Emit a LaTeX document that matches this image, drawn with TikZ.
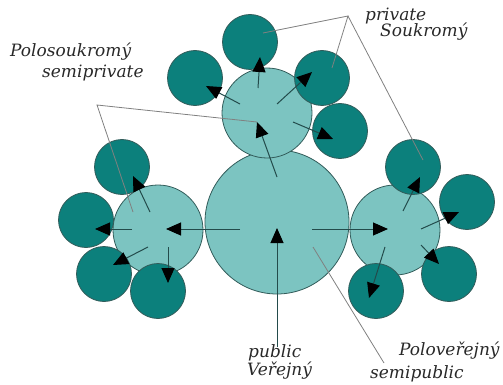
\documentclass[tikz,border=0pt]{standalone}
\usepackage{fontspec}
\newfontfamily\lblfam{DejaVu Serif}
\usetikzlibrary{arrows.meta}

\definecolor{darkteal}{RGB}{12,128,124}
\definecolor{lightteal}{RGB}{124,196,193}
\definecolor{rimcol}{RGB}{50,92,90}
\definecolor{arrowcol}{RGB}{35,75,75}
\definecolor{textcol}{RGB}{40,40,40}
\newcommand{\lblfont}{\lblfam\itshape\fontsize{17}{17}\selectfont}

\begin{document}
\begin{tikzpicture}[x=1pt,y=-1pt,>={Triangle[length=15pt,width=13pt,color=black]},
  big node/.style={circle,draw=rimcol,fill=lightteal,inner sep=0pt,minimum size=144pt,line width=0.8pt},
  mid node/.style={circle,draw=rimcol,fill=lightteal,inner sep=0pt,minimum size=90pt,line width=0.8pt},
  small node/.style={circle,draw=rimcol,fill=darkteal,inner sep=0pt,minimum size=55pt,line width=0.8pt},
  pointer/.style={->,draw=arrowcol,line width=1pt},
  leader/.style={draw=gray,line width=0.8pt},
  word/.style={inner sep=0pt,anchor=base west,text=textcol,font=\lblfont}]

 \useasboundingbox (0,0) rectangle (503,385);

 % circles
 \node[big node] (pub) at (277,222) {};
 \node[mid node] (top) at (267,113) {};
 \node[mid node] (left) at (158,230) {};
 \node[mid node] (right) at (395,230) {};

 \node[small node] (top1) at (250,42) {};
 \node[small node] (top2) at (195,78) {};
 \node[small node] (top3) at (322,78) {};
 \node[small node] (top4) at (340,131) {};
 \node[small node] (left1) at (122,167) {};
 \node[small node] (left2) at (86,220) {};
 \node[small node] (left3) at (104,274) {};
 \node[small node] (left4) at (158,291) {};
 \node[small node] (right1) at (413,167) {};
 \node[small node] (right2) at (467,202) {};
 \node[small node] (right3) at (449,274) {};
 \node[small node] (right4) at (376,291) {};

 % labels
 \node[word] (polosouk) at (10,57) {Polosoukromý};
 \node[word] (semipriv) at (42,78) {semiprivate};
 \node[word] (priv) at (365,21) {private};
 \node[word] (souk) at (380,37) {Soukromý};
 \node[word] (publ) at (248,357) {public};
 \node[word] (verej) at (247,375) {Veřejný};
 \node[word] (polover) at (399,355) {Poloveřejný};
 \node[word] (semipubl) at (370,378) {semipublic};

 % arrow ends
 \coordinate (t1s) at (258,88);  \coordinate (t1e) at (260,57);
 \coordinate (t2s) at (240,104); \coordinate (t2e) at (206,86);
 \coordinate (t3s) at (277,104); \coordinate (t3e) at (312,72);
 \coordinate (t4s) at (293,122); \coordinate (t4e) at (333,139);
 \coordinate (t0s) at (277,177); \coordinate (t0e) at (257,122);
 \coordinate (l0s) at (240,229); \coordinate (l0e) at (166,229);
 \coordinate (l1s) at (150,212); \coordinate (l1e) at (133,176);
 \coordinate (l2s) at (132,229); \coordinate (l2e) at (95,229);
 \coordinate (l3s) at (148,247); \coordinate (l3e) at (113,265);
 \coordinate (l4s) at (168,247); \coordinate (l4e) at (168,283);
 \coordinate (r0s) at (312,229); \coordinate (r0e) at (388,229);
 \coordinate (r1s) at (403,211); \coordinate (r1e) at (420,177);
 \coordinate (r2s) at (421,229); \coordinate (r2e) at (459,212);
 \coordinate (r3s) at (421,245); \coordinate (r3e) at (439,264);
 \coordinate (r4s) at (385,247); \coordinate (r4e) at (369,298);
 \coordinate (p0s) at (277,347); \coordinate (p0e) at (277,228);

 % leader lines
 \coordinate (semiv) at (97,105);
 \coordinate (semil) at (133,212);
 \coordinate (privv) at (348,16);
 \coordinate (pt1) at (263,33);
 \coordinate (pt2) at (332,68);
 \coordinate (pt3) at (423,160);
 \coordinate (spv) at (313,247);
 \coordinate (spe) at (384,363);
 \draw[leader] (t0e) -- (semiv) -- (semil);
 \draw[leader] (pt1) -- (privv) -- (pt2);
 \draw[leader] (privv) -- (pt3);
 \draw[leader] (spv) -- (spe);

 % arrows
 \draw[pointer] (t1s) -- (t1e);
 \draw[pointer] (t2s) -- (t2e);
 \draw[pointer] (t3s) -- (t3e);
 \draw[pointer] (t4s) -- (t4e);
 \draw[pointer] (t0s) -- (t0e);
 \draw[pointer] (l0s) -- (l0e);
 \draw[pointer] (l1s) -- (l1e);
 \draw[pointer] (l2s) -- (l2e);
 \draw[pointer] (l3s) -- (l3e);
 \draw[pointer] (l4s) -- (l4e);
 \draw[pointer] (r0s) -- (r0e);
 \draw[pointer] (r1s) -- (r1e);
 \draw[pointer] (r2s) -- (r2e);
 \draw[pointer] (r3s) -- (r3e);
 \draw[pointer] (r4s) -- (r4e);
 \draw[pointer] (p0s) -- (p0e);

\end{tikzpicture}
\end{document}
